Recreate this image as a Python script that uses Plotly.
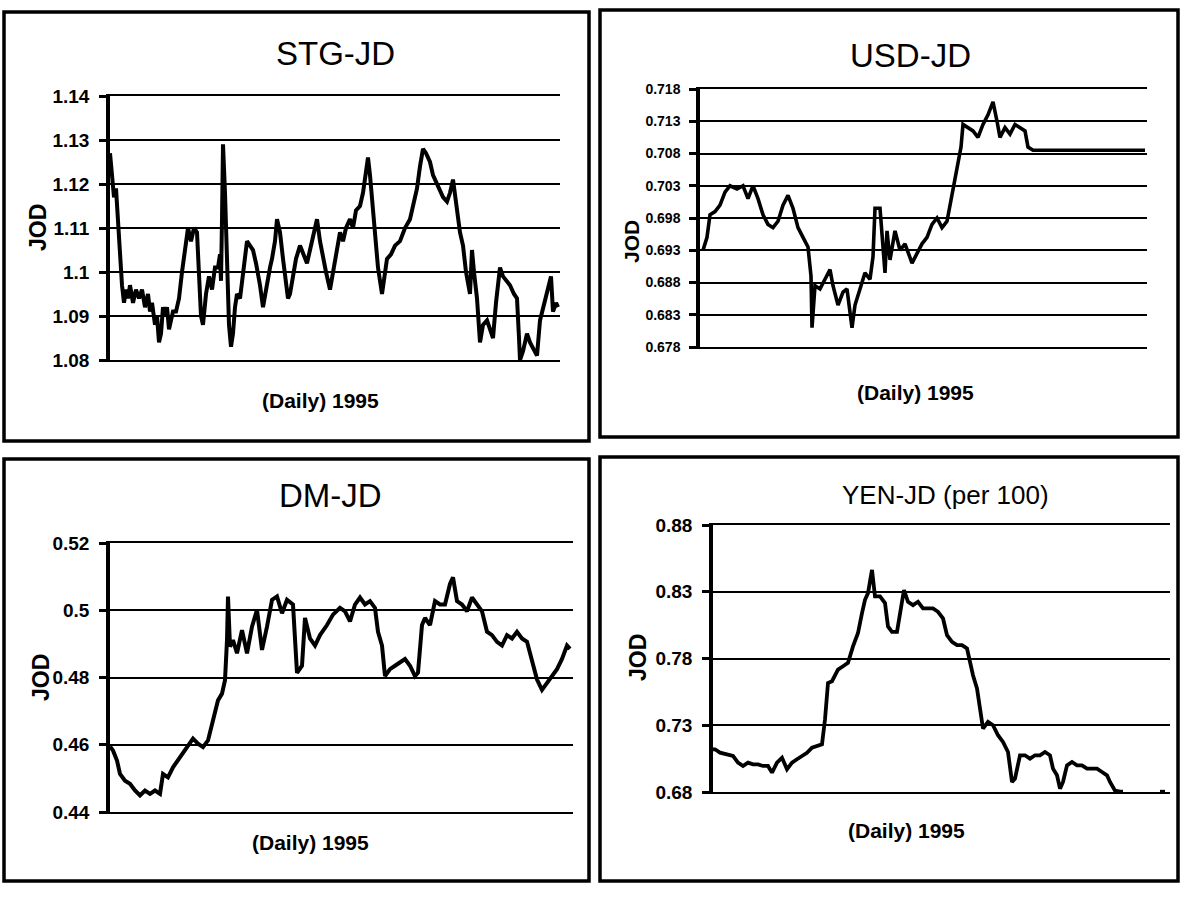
import plotly.graph_objects as go

# ---------------- data ----------------
# observation index within 1995 (daily) and rate in JOD
stg_obs = [0, 2, 4, 6, 8, 10, 12, 14, 16, 18, 20, 23, 26, 29, 32, 35, 38, 40, 42, 45, 47, 49, 51, 53, 55, 57, 59, 61, 63, 66,
           69, 72, 75, 78, 81, 84, 87, 89, 91, 93, 96, 99, 102, 105, 108, 110, 111, 112, 113, 115, 117, 119, 121, 123, 125, 127,
           130, 133, 137, 140, 143, 146, 148, 150, 153, 155, 157, 160, 162, 165, 167, 170, 173, 175, 178, 180, 183, 186, 190, 193,
           197, 200, 203, 207, 210, 213, 216, 220, 223, 226, 230, 233, 236, 240, 243, 246, 250, 253, 256, 258, 260, 262, 265, 268,
           272, 275, 277, 281, 285, 290, 295, 300, 304, 307, 310, 313, 316, 320, 323, 327, 330, 333, 337, 340, 343, 345, 347, 350,
           353, 356, 360, 362, 364, 367, 370, 373, 377, 380, 383, 386, 390, 393, 397, 400, 404, 407, 409, 410, 413, 417, 420, 424,
           427, 430, 433, 437, 440, 441, 443, 446, 448]
stg_val = [1.127, 1.122, 1.117, 1.119, 1.111, 1.103, 1.097, 1.093, 1.096, 1.094, 1.097, 1.093, 1.096, 1.094, 1.096, 1.092, 1.095,
           1.091, 1.093, 1.088, 1.090, 1.084, 1.086, 1.092, 1.090, 1.092, 1.087, 1.089, 1.091, 1.091, 1.094, 1.100, 1.106, 1.110,
           1.107, 1.110, 1.109, 1.100, 1.090, 1.088, 1.095, 1.099, 1.096, 1.101, 1.101, 1.104, 1.098, 1.112, 1.129, 1.118, 1.100,
           1.088, 1.083, 1.086, 1.092, 1.095, 1.094, 1.100, 1.107, 1.106, 1.105, 1.102, 1.100, 1.097, 1.092, 1.095, 1.098, 1.101,
           1.103, 1.107, 1.112, 1.109, 1.103, 1.099, 1.094, 1.095, 1.099, 1.103, 1.106, 1.104, 1.102, 1.105, 1.108, 1.112, 1.107,
           1.103, 1.100, 1.096, 1.100, 1.104, 1.109, 1.107, 1.110, 1.112, 1.110, 1.114, 1.115, 1.118, 1.123, 1.126, 1.122, 1.116,
           1.108, 1.101, 1.095, 1.099, 1.103, 1.104, 1.106, 1.107, 1.110, 1.112, 1.116, 1.119, 1.124, 1.128, 1.127, 1.125, 1.122,
           1.120, 1.119, 1.117, 1.116, 1.118, 1.121, 1.117, 1.113, 1.109, 1.106, 1.100, 1.095, 1.105, 1.100, 1.094, 1.084, 1.088,
           1.089, 1.087, 1.085, 1.093, 1.101, 1.099, 1.098, 1.097, 1.095, 1.094, 1.085, 1.080, 1.082, 1.086, 1.084, 1.082, 1.081,
           1.089, 1.092, 1.095, 1.098, 1.099, 1.091, 1.093, 1.092]

usd_obs = [3, 7, 10, 15, 20, 25, 30, 37, 43, 48, 53, 58, 63, 68, 73, 78, 83, 88, 93, 98, 103, 108, 111, 112, 115, 120, 125, 130,
           133, 138, 143, 147, 152, 155, 160, 165, 170, 173, 175, 180, 185, 187, 190, 195, 200, 205, 212, 217, 222, 227, 232, 237,
           242, 247, 250, 253, 257, 261, 263, 268, 273, 278, 283, 288, 293, 297, 300, 305, 310, 315, 320, 325, 328, 333, 350, 380,
           410, 445]
usd_val = [0.6930, 0.6950, 0.6985, 0.6990, 0.7000, 0.7020, 0.7030, 0.7025, 0.7030, 0.7010, 0.7030, 0.7010, 0.6985, 0.6970,
           0.6965, 0.6975, 0.7000, 0.7015, 0.6995, 0.6965, 0.6950, 0.6935, 0.6890, 0.6810, 0.6875, 0.6870, 0.6885, 0.6900,
           0.6875, 0.6845, 0.6865, 0.6870, 0.6810, 0.6845, 0.6870, 0.6895, 0.6885, 0.6920, 0.6995, 0.6995, 0.6895, 0.6960,
           0.6915, 0.6960, 0.6930, 0.6940, 0.6910, 0.6925, 0.6940, 0.6950, 0.6970, 0.6980, 0.6965, 0.6975, 0.7000, 0.7030,
           0.7060, 0.7090, 0.7125, 0.7120, 0.7115, 0.7105, 0.7125, 0.7140, 0.7160, 0.7130, 0.7105, 0.7120, 0.7110, 0.7125,
           0.7120, 0.7115, 0.7090, 0.7085, 0.7085, 0.7085, 0.7084, 0.7085]

dm_obs = [0, 3, 7, 10, 15, 20, 25, 30, 35, 40, 45, 50, 53, 58, 63, 68, 73, 78, 83, 88, 93, 98, 102, 105, 108, 112, 115, 117,
          118, 120, 123, 127, 132, 137, 142, 147, 152, 157, 162, 167, 172, 177, 183, 187, 192, 195, 200, 205, 210, 217, 223,
          230, 235, 240, 245, 250, 255, 260, 265, 268, 272, 275, 280, 285, 290, 295, 300, 305, 308, 312, 315, 320, 325, 330,
          335, 340, 343, 347, 352, 357, 362, 367, 372, 377, 382, 387, 392, 397, 402, 407, 412, 417, 422, 427, 432, 437, 442,
          447, 452, 457, 460]
dm_val = [0.4595, 0.4583, 0.4553, 0.4513, 0.4493, 0.4484, 0.4464, 0.4449, 0.4464, 0.4454, 0.4464, 0.4454, 0.4513, 0.4503,
          0.4533, 0.4553, 0.4573, 0.4593, 0.4618, 0.4603, 0.4593, 0.4613, 0.4663, 0.4702, 0.4732, 0.4752, 0.4792, 0.4911,
          0.5041, 0.4892, 0.4911, 0.4872, 0.4941, 0.4872, 0.4951, 0.5001, 0.4882, 0.4951, 0.5031, 0.5041, 0.4991, 0.5031,
          0.5017, 0.4814, 0.4835, 0.4977, 0.4916, 0.4895, 0.4926, 0.4956, 0.4987, 0.5007, 0.4997, 0.4967, 0.5017, 0.5038,
          0.5017, 0.5027, 0.5007, 0.4936, 0.4895, 0.4804, 0.4825, 0.4835, 0.4845, 0.4855, 0.4835, 0.4804, 0.4814, 0.4956,
          0.4977, 0.4956, 0.5027, 0.5017, 0.5017, 0.5078, 0.5098, 0.5027, 0.5017, 0.4997, 0.5038, 0.5017, 0.4997, 0.4936,
          0.4926, 0.4906, 0.4895, 0.4926, 0.4916, 0.4936, 0.4916, 0.4906, 0.4855, 0.4794, 0.4763, 0.4784, 0.4804, 0.4825,
          0.4855, 0.4895, 0.4885]

yen_obs = [0, 2, 7, 14, 20, 25, 30, 35, 40, 45, 50, 55, 59, 64, 69, 74, 79, 84, 89, 94, 99, 104, 109, 112, 115, 119, 122, 125,
           130, 135, 140, 145, 149, 152, 155, 159, 162, 167, 172, 175, 179, 184, 189, 191, 195, 200, 205, 210, 215, 220, 225,
           230, 234, 239, 244, 249, 254, 257, 260, 264, 267, 270, 275, 280, 285, 290, 295, 299, 302, 307, 312, 317, 322, 327,
           332, 337, 340, 344, 347, 350, 354, 359, 364, 369, 374, 379, 384, 389, 394, 397, 402, 407, 410, None, 447, 452]
yen_val = [0.7120, 0.7120, 0.7095, 0.7080, 0.7070, 0.7020, 0.6995, 0.7020, 0.7007, 0.7007, 0.6995, 0.6995, 0.6945, 0.7020,
           0.7057, 0.6970, 0.7020, 0.7045, 0.7070, 0.7094, 0.7132, 0.7144, 0.7157, 0.7344, 0.7617, 0.7630, 0.7667, 0.7717,
           0.7742, 0.7767, 0.7891, 0.7991, 0.8140, 0.8240, 0.8290, 0.8464, 0.8265, 0.8265, 0.8215, 0.8040, 0.8000, 0.8000,
           0.8225, 0.8312, 0.8225, 0.8200, 0.8225, 0.8175, 0.8175, 0.8175, 0.8150, 0.8100, 0.7975, 0.7925, 0.7900, 0.7900,
           0.7875, 0.7775, 0.7675, 0.7575, 0.7425, 0.7275, 0.7325, 0.7300, 0.7225, 0.7175, 0.7100, 0.6875, 0.6900, 0.7075,
           0.7075, 0.7050, 0.7075, 0.7075, 0.7100, 0.7075, 0.6975, 0.6925, 0.6825, 0.6875, 0.7000, 0.7025, 0.7000, 0.7000,
           0.6975, 0.6975, 0.6975, 0.6950, 0.6925, 0.6875, 0.6810, 0.6802, 0.6802, None, 0.6802, 0.6802]

stg_ticks = [1.08, 1.09, 1.10, 1.11, 1.12, 1.13, 1.14]
stg_ticktext = ["1.08", "1.09", "1.1", "1.11", "1.12", "1.13", "1.14"]
usd_ticks = [0.678, 0.683, 0.688, 0.693, 0.698, 0.703, 0.708, 0.713, 0.718]
usd_ticktext = ["0.678", "0.683", "0.688", "0.693", "0.698", "0.703", "0.708", "0.713", "0.718"]
dm_ticks = [0.44, 0.46, 0.48, 0.50, 0.52]
dm_ticktext = ["0.44", "0.46", "0.48", "0.5", "0.52"]
yen_ticks = [0.68, 0.73, 0.78, 0.83, 0.88]
yen_ticktext = ["0.68", "0.73", "0.78", "0.83", "0.88"]

titles = ["STG-JD", "USD-JD", "DM-JD", "YEN-JD (per 100)"]
x_title = "(Daily) 1995"
y_title = "JOD"

# ---------------- layout helpers ----------------
W, H = 1188, 899
FONT = "Liberation Sans, Arial, sans-serif"


def px(x):
    return x / W


def py(y):
    return 1 - y / H


panels = [
    dict(l=110, r=560, t=96, b=360, xlen=450, fs=19, obs=stg_obs, val=stg_val, ticks=stg_ticks, tt=stg_ticktext,
         title_xy=(335, 54), tfs=33, xt_xy=(320, 400), yt_xy=(38, 228), yfs=23, box=(4, 589, 12, 441), lw=4),
    dict(l=700, r=1147, t=89, b=347, xlen=447, fs=14, obs=usd_obs, val=usd_val, ticks=usd_ticks, tt=usd_ticktext,
         title_xy=(910, 55), tfs=33, xt_xy=(915, 392), yt_xy=(631, 242), yfs=21, box=(600, 1178, 10, 437), lw=3.6),
    dict(l=110, r=573, t=543, b=812, xlen=463, fs=19, obs=dm_obs, val=dm_val, ticks=dm_ticks, tt=dm_ticktext,
         title_xy=(330, 495), tfs=33, xt_xy=(310, 842), yt_xy=(41, 678), yfs=23, box=(4, 589, 459, 881), lw=4),
    dict(l=713, r=1170, t=525, b=792, xlen=457, fs=19, obs=yen_obs, val=yen_val, ticks=yen_ticks, tt=yen_ticktext,
         title_xy=(945, 495), tfs=26, xt_xy=(906, 830), yt_xy=(638, 658), yfs=23, box=(600, 1178, 457, 881), lw=3.8),
]

fig = go.Figure()
shapes = []
annotations = []

for i, p in enumerate(panels, start=1):
    xa = "x" if i == 1 else f"x{i}"
    ya = "y" if i == 1 else f"y{i}"
    fig.add_trace(go.Scatter(x=p["obs"], y=p["val"], mode="lines", xaxis=xa, yaxis=ya,
                             line=dict(color="black", width=p["lw"]), connectgaps=False,
                             showlegend=False, hoverinfo="skip"))
    xkey = "xaxis" if i == 1 else f"xaxis{i}"
    ykey = "yaxis" if i == 1 else f"yaxis{i}"
    fig.layout[xkey] = dict(domain=[px(p["l"]), px(p["r"])], range=[0, p["xlen"]], anchor=ya,
                            showgrid=False, zeroline=False, showticklabels=False, ticks="",
                            showline=True, mirror=True, linecolor="black", linewidth=2.2,
                            automargin=False, fixedrange=True)
    fig.layout[ykey] = dict(domain=[py(p["b"]), py(p["t"])], range=[p["ticks"][0], p["ticks"][-1]], anchor=xa,
                            tickmode="array", tickvals=p["ticks"], ticktext=p["tt"],
                            showgrid=True, gridcolor="black", gridwidth=2, zeroline=False,
                            showline=True, linecolor="black", linewidth=3.5,
                            ticks="outside", ticklen=7, tickwidth=2.5, tickcolor="black",
                            ticklabelstandoff=6, automargin=False,
                            tickfont=dict(family=FONT, size=p["fs"], color="black", weight="bold"),
                            fixedrange=True)
    bx0, bx1, by0, by1 = p["box"]
    shapes.append(dict(type="rect", xref="paper", yref="paper", x0=px(bx0), x1=px(bx1), y0=py(by1), y1=py(by0),
                       line=dict(color="black", width=3.5), fillcolor="rgba(0,0,0,0)", layer="above"))
    annotations.append(dict(text=titles[i - 1], xref="paper", yref="paper", x=px(p["title_xy"][0]), y=py(p["title_xy"][1]),
                            xanchor="center", yanchor="middle", showarrow=False,
                            font=dict(family=FONT, size=p["tfs"], color="black")))
    annotations.append(dict(text=x_title, xref="paper", yref="paper", x=px(p["xt_xy"][0]), y=py(p["xt_xy"][1]),
                            xanchor="center", yanchor="middle", showarrow=False,
                            font=dict(family=FONT, size=21, color="black", weight="bold")))
    annotations.append(dict(text=y_title, xref="paper", yref="paper", x=px(p["yt_xy"][0]), y=py(p["yt_xy"][1]),
                            xanchor="center", yanchor="middle", showarrow=False, textangle=-90,
                            font=dict(family=FONT, size=p["yfs"], color="black", weight="bold")))

fig.update_layout(template="none", width=W, height=H, autosize=False,
                  margin=dict(l=0, r=0, t=0, b=0, pad=0, autoexpand=False),
                  font=dict(family=FONT, color="black"),
                  paper_bgcolor="white", plot_bgcolor="white", shapes=shapes, annotations=annotations,
                  showlegend=False)

fig.write_html("out.html", config={"displayModeBar": False, "responsive": False},
               post_script="document.body.style.margin='0';document.body.style.overflow='hidden';")
